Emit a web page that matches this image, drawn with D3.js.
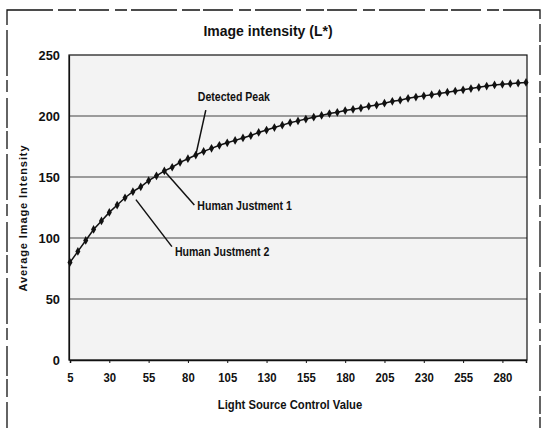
<!DOCTYPE html>
<html>
<head>
<meta charset="utf-8">
<script src="https://cdn.jsdelivr.net/npm/d3@7"></script>
<style>
  html, body { margin: 0; padding: 0; background: #fff; }
  svg { display: block; font-family: "Liberation Sans", Arial, sans-serif; }
</style>
</head>
<body>
<svg id="chart" width="544" height="428"></svg>
<script>
// Light source control setting (x categories)
const controlValues = d3.range(5, 300, 5);
// Average L* measured at each setting
const intensity = [
  80, 89, 98, 107, 114, 121, 127, 133, 138, 142,
  147, 151, 155, 158, 162, 165, 168, 171, 173.5, 176,
  178, 180, 182, 184, 186.5, 188.5, 190.5, 192.5, 194.5, 196,
  197.5, 199, 200.5, 202, 203, 204.5, 205.5, 206.5, 208, 209,
  210.5, 212, 213, 214.5, 215.5, 216.5, 217.5, 218.5, 219.5, 220.5,
  221.5, 222.5, 223.5, 224.5, 225.5, 226, 226.5, 227, 227.5
];
const xTickValues = [5, 30, 55, 80, 105, 130, 155, 180, 205, 230, 255, 280];
const yTickValues = [0, 50, 100, 150, 200, 250];
// Callouts and the control value each one points at
const calloutLabels = ["Detected Peak", "Human Justment 1", "Human Justment 2"];
const calloutTargets = [85, 65, 45];

const titleText = "Image intensity (L*)";
const xTitle = "Light Source Control Value";
const yTitle = "Average Image Intensity";

const svg = d3.select("#chart");
const plot = { left: 69, right: 527, top: 55, bottom: 360 };

const x = d3.scaleLinear().domain([5, 295]).range([plot.left + 1, plot.right - 1]);
const y = d3.scaleLinear().domain([0, 250]).range([plot.bottom, plot.top]);

const data = controlValues.map((c, i) => ({ c, v: intensity[i] }));

// squeeze text horizontally to a narrow face
function narrow(sel, k) {
  sel.each(function () {
    const len = this.getComputedTextLength();
    d3.select(this).attr("textLength", len * k).attr("lengthAdjust", "spacingAndGlyphs");
  });
}

// outer page frame (broken, like a printed border)
svg.append("rect")
  .attr("x", 7).attr("y", 10).attr("width", 533).attr("height", 430)
  .attr("fill", "none").attr("stroke", "#111").attr("stroke-width", 1.3)
  .attr("stroke-dasharray", "46 5 18 3 30 6 12 4");

// plot area background
svg.append("rect")
  .attr("x", plot.left).attr("y", plot.top)
  .attr("width", plot.right - plot.left).attr("height", plot.bottom - plot.top)
  .attr("fill", "#f3f3f3");

// horizontal gridlines
svg.append("g")
  .selectAll("line")
  .data(yTickValues.filter(t => t > 0 && t < 250))
  .join("line")
  .attr("x1", plot.left).attr("x2", plot.right)
  .attr("y1", d => y(d)).attr("y2", d => y(d))
  .attr("stroke", "#444").attr("stroke-width", 1.2);

// plot border
svg.append("rect")
  .attr("x", plot.left).attr("y", plot.top)
  .attr("width", plot.right - plot.left).attr("height", plot.bottom - plot.top)
  .attr("fill", "none").attr("stroke", "#111").attr("stroke-width", 1.2);

// x axis
const xAxis = svg.append("g")
  .attr("transform", `translate(0,${plot.bottom})`)
  .call(d3.axisBottom(x).tickValues(xTickValues).tickSize(3).tickPadding(9).tickFormat(d3.format("d")));
xAxis.select(".domain").attr("stroke", "#111").attr("stroke-width", 1.5);
xAxis.selectAll(".tick line").attr("stroke", "#111");
xAxis.selectAll("text")
  .attr("font-family", null).attr("font-size", 13.5).attr("font-weight", "bold").attr("fill", "#111")
  .call(narrow, 0.84);

// y axis
const yAxis = svg.append("g")
  .attr("transform", `translate(${plot.left},0)`)
  .call(d3.axisLeft(y).tickValues(yTickValues).tickSize(0).tickPadding(9).tickFormat(d3.format("d")));
yAxis.select(".domain").attr("stroke", "#111").attr("stroke-width", 1.2);
yAxis.selectAll("text")
  .attr("font-family", null).attr("font-size", 13.5).attr("font-weight", "bold").attr("fill", "#111")
  .call(narrow, 0.95);

// data line
svg.append("path")
  .datum(data)
  .attr("fill", "none").attr("stroke", "#111").attr("stroke-width", 1.5)
  .attr("d", d3.line().x(d => x(d.c)).y(d => y(d.v)));

// diamond markers
svg.append("g")
  .selectAll("path")
  .data(data)
  .join("path")
  .attr("transform", d => `translate(${x(d.c)},${y(d.v)})`)
  .attr("d", d3.symbol(d3.symbolDiamond, 22))
  .attr("fill", "#111");

// callouts: leader line from the curve to the label
const valueAt = c => intensity[controlValues.indexOf(c)];
const calloutOffsets = [
  { sx: 0, sy: 0, lx: 10, ly: -45, tx: 2, ty: -58 },
  { sx: 0, sy: 0, lx: 30, ly: 34, tx: 33, ty: 35 },
  { sx: 3, sy: 8, lx: 36, ly: 47, tx: 39, ty: 52 }
];
const calloutG = svg.append("g");
calloutLabels.forEach((label, i) => {
  const o = calloutOffsets[i];
  const px = x(calloutTargets[i]) + o.sx;
  const py = y(valueAt(calloutTargets[i])) + o.sy;
  calloutG.append("line")
    .attr("x1", px).attr("y1", py)
    .attr("x2", px + o.lx).attr("y2", py + o.ly)
    .attr("stroke", "#111").attr("stroke-width", 1.5);
  calloutG.append("text")
    .attr("x", px + o.tx).attr("y", py + o.ty)
    .attr("dy", "0.35em")
    .attr("font-size", 12).attr("font-weight", "bold").attr("fill", "#111")
    .text(label)
    .call(narrow, 0.88);
});

// title and axis titles
svg.append("text")
  .attr("x", 268).attr("y", 31).attr("dy", "0.35em")
  .attr("text-anchor", "middle").attr("font-size", 14).attr("font-weight", "bold")
  .attr("fill", "#111")
  .text(titleText)
  .call(narrow, 1.0);

svg.append("text")
  .attr("x", 290).attr("y", 405).attr("dy", "0.35em")
  .attr("text-anchor", "middle").attr("font-size", 12.5).attr("font-weight", "bold")
  .attr("fill", "#111")
  .text(xTitle)
  .call(narrow, 0.9);

svg.append("text")
  .attr("transform", "translate(23,218) rotate(-90)")
  .attr("dy", "0.35em")
  .attr("text-anchor", "middle").attr("font-size", 11).attr("font-weight", "bold")
  .attr("letter-spacing", 0.9)
  .attr("fill", "#111")
  .text(yTitle);
</script>
</body>
</html>
